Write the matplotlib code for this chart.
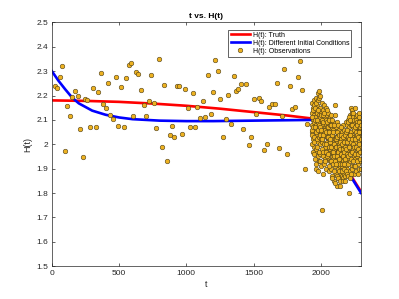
import matplotlib
matplotlib.use('Agg')
import matplotlib.pyplot as plt

plt.rcParams['font.family'] = ['Liberation Sans', 'DejaVu Sans']

# Truth curve H(t)
truth_t = [0, 250, 500, 750, 1000, 1250, 1500, 1750, 1960, 2300]
truth_h = [2.180, 2.178, 2.174, 2.167, 2.158, 2.146, 2.132, 2.118, 2.104, 1.805]

# Curve from different initial conditions
diff_t = [0, 50, 100, 150, 200, 300, 400, 500, 600, 800, 1000, 1200, 1500, 1800, 1960, 2300]
diff_h = [2.300, 2.260, 2.225, 2.192, 2.168, 2.138, 2.121, 2.110, 2.103, 2.097,
          2.095, 2.095, 2.097, 2.099, 2.100, 1.800]

# Sparse observations
obs_t = [20, 37, 57, 74, 97, 114, 134, 151, 171, 191, 211, 228, 248, 265, 285, 305,
         325, 342, 362, 379, 399, 419, 436, 456, 476, 493, 513, 533, 553, 570, 590,
         607, 627, 644, 664, 684, 701, 721, 741, 761, 778, 798, 818, 835, 855, 875,
         892, 912, 932, 949, 969, 989, 1009, 1026, 1046, 1066, 1083, 1103, 1123,
         1140, 1160, 1180, 1197, 1217, 1237, 1254, 1274, 1294, 1311, 1331, 1351,
         1368, 1388, 1408, 1425, 1445, 1465, 1482, 1502, 1522, 1539, 1559, 1579,
         1599, 1616, 1636, 1656, 1673, 1693, 1713, 1730, 1750, 1770, 1787, 1807,
         1827, 1844, 1864, 1884, 1901]
obs_h = [2.241, 2.230, 2.278, 2.323, 1.974, 2.158, 2.115, 2.192, 2.218, 2.200,
         2.064, 1.949, 2.185, 2.182, 2.071, 2.229, 2.071, 2.215, 2.292, 2.166,
         2.148, 2.252, 2.122, 2.103, 2.278, 2.074, 2.234, 2.070, 2.270, 2.326,
         2.333, 2.116, 2.297, 2.289, 2.221, 2.160, 2.118, 2.179, 2.284, 2.168,
         2.068, 2.349, 1.990, 2.244, 1.933, 2.040, 2.075, 2.030, 2.238, 2.238,
         2.041, 2.227, 2.148, 2.070, 2.211, 2.070, 2.153, 2.108, 2.177, 2.111,
         2.285, 2.126, 2.214, 2.345, 2.300, 2.186, 2.030, 2.105, 2.203, 2.082,
         2.282, 2.219, 2.225, 2.248, 2.063, 2.247, 1.999, 2.030, 2.184, 2.126,
         2.188, 2.179, 1.975, 2.003, 2.151, 2.166, 2.166, 2.252, 1.985, 2.116,
         2.307, 1.960, 2.240, 2.145, 2.153, 2.275, 2.342, 2.221, 1.899, 2.082]

# Dense observations at the end (two values per time)
dense_t = [1932, 1934, 1936, 1938, 1940, 1942, 1944, 1946, 1948, 1950,
           1952, 1954, 1956, 1958, 1960, 1962, 1964, 1966, 1968, 1970,
           1972, 1974, 1976, 1978, 1980, 1982, 1984, 1986, 1988, 1990,
           1992, 1994, 1996, 1998, 2000, 2002, 2004, 2006, 2008, 2010,
           2012, 2014, 2016, 2018, 2020, 2022, 2024, 2026, 2028, 2030,
           2032, 2034, 2036, 2038, 2040, 2042, 2044, 2046, 2048, 2050,
           2052, 2054, 2056, 2058, 2060, 2062, 2064, 2066, 2068, 2070,
           2072, 2074, 2076, 2078, 2080, 2082, 2084, 2086, 2088, 2090,
           2092, 2094, 2096, 2098, 2100, 2102, 2104, 2106, 2108, 2110,
           2112, 2114, 2116, 2118, 2120, 2122, 2124, 2126, 2128, 2130,
           2132, 2134, 2136, 2138, 2140, 2142, 2144, 2146, 2148, 2150,
           2152, 2154, 2156, 2158, 2160, 2162, 2164, 2166, 2168, 2170,
           2172, 2174, 2176, 2178, 2180, 2182, 2184, 2186, 2188, 2190,
           2192, 2194, 2196, 2198, 2200, 2202, 2204, 2206, 2208, 2210,
           2212, 2214, 2216, 2218, 2220, 2222, 2224, 2226, 2228, 2230,
           2232, 2234, 2236, 2238, 2240, 2242, 2244, 2246, 2248, 2250,
           2252, 2254, 2256, 2258, 2260, 2262, 2264, 2266, 2268, 2270,
           2272, 2274, 2276, 2278, 2280, 2282, 2284, 2286, 2288, 2290,
           2292, 2294, 2296, 2298, 2300]
dense_h1 = [2.08, 2.13, 2.05, 2.17, 2.10, 2.02, 2.15, 2.09, 1.99, 2.12,
            2.18, 2.06, 2.14, 1.97, 2.11, 2.03, 1.92, 2.08, 2.19, 2.13,
            2.04, 2.16, 1.95, 2.09, 2.21, 2.01, 2.12, 2.22, 1.93, 2.07,
            2.15, 2.00, 2.11, 1.96, 2.13, 2.05, 1.91, 2.09, 2.17, 1.73,
            2.08, 1.95, 2.14, 2.03, 1.88, 2.10, 2.05, 2.16, 1.98, 2.07,
            2.11, 1.99, 2.04, 2.15, 1.90, 2.08, 2.01, 1.96, 2.12, 2.03,
            2.00, 2.13, 1.94, 2.06, 2.02, 1.89, 2.09, 1.97, 2.04, 2.11,
            1.98, 2.05, 1.90, 2.12, 2.00, 1.95, 2.07, 1.87, 2.03, 1.96,
            2.09, 1.94, 2.01, 1.85, 2.06, 1.98, 2.12, 2.16, 1.91, 2.03,
            1.96, 2.07, 1.88, 1.83, 2.01, 1.94, 2.09, 1.98, 1.90, 2.04,
            1.93, 2.00, 1.86, 2.06, 1.97, 1.91, 1.83, 2.03, 1.95, 1.88,
            2.02, 1.94, 1.87, 2.05, 1.91, 1.99, 2.08, 1.93, 1.86, 2.01,
            1.95, 2.06, 1.88, 1.99, 1.93, 2.02, 1.87, 2.09, 1.96, 1.91,
            2.03, 1.94, 2.08, 1.90, 1.99, 2.10, 2.05, 1.92, 1.97, 1.80,
            2.07, 1.93, 2.12, 2.00, 1.89, 2.05, 1.97, 2.15, 2.09, 1.91,
            2.04, 2.14, 1.90, 2.07, 1.98, 2.11, 1.95, 2.03, 1.88, 2.09,
            2.01, 2.15, 1.94, 2.06, 2.11, 1.89, 2.03, 2.08, 1.97, 2.12,
            1.95, 2.10, 2.04, 1.92, 2.07, 2.01, 2.13, 1.97, 1.90, 2.06,
            2.03, 1.93, 2.09, 1.99, 2.05]
dense_h2 = [2.04, 2.00, 2.11, 2.06, 1.97, 2.14, 2.07, 2.03, 2.16, 1.96,
            2.01, 2.10, 1.94, 2.07, 2.15, 1.90, 2.05, 2.17, 1.98, 2.02,
            2.10, 1.99, 2.06, 2.18, 1.89, 2.14, 2.03, 2.08, 2.19, 1.97,
            2.04, 2.20, 2.07, 1.93, 2.02, 2.12, 2.06, 1.98, 2.10, 2.01,
            2.02, 2.12, 1.97, 2.09, 2.04, 1.92, 2.13, 2.00, 2.06, 1.94,
            1.93, 2.06, 2.10, 1.97, 2.05, 2.00, 2.14, 2.07, 1.95, 2.09,
            2.07, 1.96, 2.03, 1.91, 2.10, 2.05, 1.99, 2.08, 1.93, 2.01,
            2.02, 1.93, 2.08, 1.99, 1.86, 2.04, 1.97, 2.10, 1.92, 2.06,
            1.97, 2.05, 1.89, 2.00, 1.95, 2.08, 1.93, 2.02, 1.84, 1.99,
            2.02, 1.92, 1.99, 2.05, 1.87, 2.03, 1.95, 1.86, 2.08, 1.97,
            1.99, 1.89, 2.04, 1.94, 2.01, 1.85, 1.98, 1.92, 2.07, 1.96,
            1.96, 2.04, 1.92, 1.89, 2.00, 1.85, 1.95, 2.03, 1.98, 1.90,
            2.01, 1.92, 1.97, 1.85, 2.04, 1.94, 1.99, 1.89, 2.05, 1.98,
            1.96, 2.01, 1.88, 2.06, 2.09, 1.95, 1.87, 2.03, 2.11, 1.99,
            2.02, 2.10, 1.96, 1.86, 2.04, 2.08, 1.94, 2.01, 1.88, 2.13,
            1.97, 2.02, 2.08, 1.93, 2.13, 2.00, 2.06, 1.91, 2.10, 1.99,
            2.07, 1.96, 2.02, 1.91, 2.05, 2.10, 1.99, 1.93, 2.09, 2.04,
            2.08, 1.98, 1.88, 2.03, 1.96, 2.11, 2.00, 2.05, 2.09, 1.94,
            1.97, 2.07, 1.90, 2.02, 2.08]

all_t = obs_t + dense_t + dense_t
all_h = obs_h + dense_h1 + dense_h2

fig = plt.figure(figsize=(3.99, 2.99), dpi=100)
ax = fig.add_axes([0.13, 0.11, 0.775, 0.815])

ax.plot(truth_t, truth_h, color='#FF0000', linewidth=1.9, label='H(t): Truth')
ax.plot(diff_t, diff_h, color='#0000FF', linewidth=1.9, label='H(t): Different Initial Conditions')
ax.plot(all_t, all_h, linestyle='none', marker='o', markersize=3.3,
        markerfacecolor='#EDB120', markeredgecolor='#4a3c18', markeredgewidth=0.4,
        label='H(t): Observations')

ax.set_xlim(0, 2300)
ax.set_ylim(1.5, 2.5)
ax.set_xticks([0, 500, 1000, 1500, 2000])
ax.set_yticks([1.5, 1.6, 1.7, 1.8, 1.9, 2.0, 2.1, 2.2, 2.3, 2.4, 2.5])
ax.set_yticklabels(['1.5', '1.6', '1.7', '1.8', '1.9', '2', '2.1', '2.2', '2.3', '2.4', '2.5'])

ax.tick_params(direction='in', length=2.5, width=0.5, labelsize=6,
               colors='#262626', top=True, right=True, pad=2.5)
for s in ax.spines.values():
    s.set_color('#262626')
    s.set_linewidth(0.5)

ax.set_title('t vs. H(t)', fontsize=6, fontweight='bold', pad=3.5)
ax.set_xlabel('t', fontsize=6.5, color='#262626', labelpad=2.5)
ax.set_ylabel('H(t)', fontsize=6.5, color='#262626', labelpad=3)

leg = ax.legend(loc='upper right', fontsize=5, handlelength=2.8, borderpad=0.3,
                labelspacing=0.15, handletextpad=0.4, fancybox=False,
                bbox_to_anchor=(0.98, 0.985), framealpha=1)
leg.get_frame().set_edgecolor('#262626')
leg.get_frame().set_linewidth(0.5)

fig.savefig('out.png', dpi=100)
